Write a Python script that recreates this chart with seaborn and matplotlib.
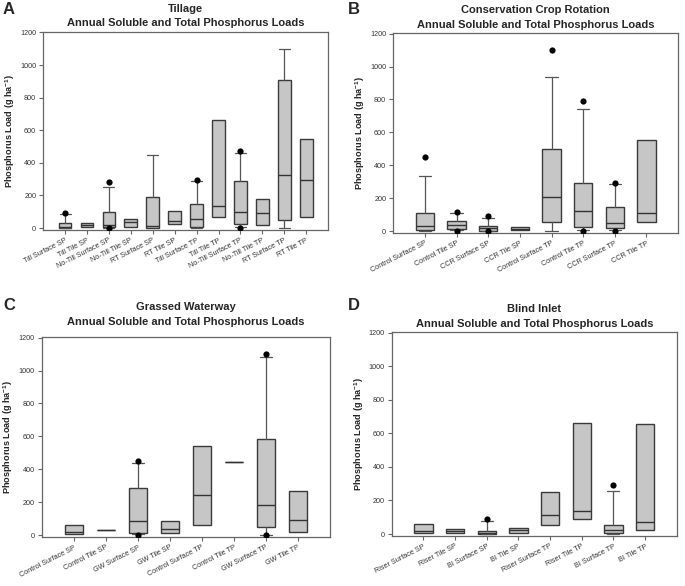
import numpy as np
import pandas as pd
import seaborn as sns
import matplotlib.pyplot as plt

# Panel A - Tillage
a_labels = ["Till Surface SP", "Till Tile SP", "No-Till Surface SP", "No-Till Tile SP",
            "RT Surface SP", "RT Tile SP", "Till Surface TP", "Till Tile TP",
            "No-Till Surface TP", "No-Till Tile TP", "RT Surface TP", "RT Tile TP"]
a_q1 = [2, 4, 4, 8, 1, 22, 6, 67, 22, 16, 49, 67]
a_med = [8, 16, 18, 35, 12, 41, 53, 133, 100, 90, 325, 296]
a_q3 = [33, 29, 96, 53, 188, 102, 150, 660, 290, 180, 910, 545]
a_wlo = [0, None, 2, None, None, None, 2, None, 8, None, 0, None]
a_whi = [84, None, 253, None, 450, None, 287, None, 463, None, 1100, None]
a_out = [[95], [], [282, 0], [], [], [], [293], [], [473, 2], [], [], []]

# Panel B - Conservation Crop Rotation
b_labels = ["Control Surface SP", "Control Tile SP", "CCR Surface SP", "CCR Tile SP",
            "Control Surface TP", "Control Tile TP", "CCR Surface TP", "CCR Tile TP"]
b_q1 = [4, 12, 3, 4, 54, 22, 17, 52]
b_med = [30, 35, 16, 14, 207, 121, 50, 111]
b_q3 = [107, 63, 33, 26, 498, 295, 148, 554]
b_wlo = [0, 4, 0, None, 0, 8, 8, None]
b_whi = [335, 112, 78, None, 936, 741, 286, None]
b_out = [[452], [115, 0], [91, 0], [], [1103], [793, 0], [292, 2], []]

# Panel C - Grassed Waterway
c_labels = ["Control Surface SP", "Control Tile SP", "GW Surface SP", "GW Tile SP",
            "Control Surface TP", "Control Tile TP", "GW Surface TP", "GW Tile TP"]
c_q1 = [4, 30, 15, 10, 62, 446, 46, 16]
c_med = [18, 30, 83, 34, 246, 446, 183, 91]
c_q3 = [58, 30, 288, 84, 544, 446, 583, 270]
c_wlo = [None, None, 5, None, None, None, 0, None]
c_whi = [None, None, 440, None, None, None, 1080, None]
c_out = [[], [], [452, 3], [], [], [], [1103, 3], []]

# Panel D - Blind Inlet
d_labels = ["Riser Surface SP", "Riser Tile SP", "BI Surface SP", "BI Tile SP",
            "Riser Surface TP", "Riser Tile TP", "BI Surface TP", "BI Tile TP"]
d_q1 = [8, 4, 1, 5, 56, 89, 4, 26]
d_med = [20, 15, 6, 24, 113, 137, 22, 71]
d_q3 = [58, 27, 15, 33, 248, 660, 55, 655]
d_wlo = [None, None, 0, None, None, None, 0, None]
d_whi = [None, None, 78, None, None, None, 255, None]
d_out = [[], [], [92], [], [], [], [292], []]

sns.set_style("ticks")
plt.rcParams['font.family'] = ['Liberation Sans', 'DejaVu Sans']
plt.rcParams['mathtext.fontset'] = 'custom'
plt.rcParams['mathtext.rm'] = 'Liberation Sans:bold'
plt.rcParams['mathtext.bf'] = 'Liberation Sans:bold'
plt.rcParams['mathtext.default'] = 'bf'

fig = plt.figure(figsize=(6.85, 5.86), dpi=100)


def draw_panel(rect, labels, q1, med, q3, wlo, whi, outs, title, letter, letter_xy, capw, tpad):
    ax = fig.add_axes(rect)
    stats = []
    for i, lab in enumerate(labels):
        lo = q1[i] if wlo[i] is None else wlo[i]
        hi = q3[i] if whi[i] is None else whi[i]
        stats.append(dict(label=lab, q1=q1[i], med=med[i], q3=q3[i],
                          whislo=lo, whishi=hi, fliers=[]))
    pos = np.arange(len(labels))
    art = ax.bxp(stats, positions=pos, widths=0.58, patch_artist=True,
                 showfliers=False, capwidths=capw,
                 boxprops=dict(facecolor="#c6c6c6", edgecolor="#3a3a3a", linewidth=1.0),
                 medianprops=dict(color="#333333", linewidth=1.0),
                 whiskerprops=dict(color="#555555", linewidth=0.9),
                 capprops=dict(color="#555555", linewidth=0.9))
    # no whisker drawn when the group has too few years
    for i in range(len(labels)):
        if wlo[i] is None:
            art['caps'][2 * i].set_visible(False)
        if whi[i] is None:
            art['caps'][2 * i + 1].set_visible(False)

    # outliers
    fx, fy = [], []
    for i, vals in enumerate(outs):
        for v in vals:
            fx.append(i)
            fy.append(v)
    df = pd.DataFrame({"pos": fx, "load": fy})
    sns.scatterplot(data=df, x="pos", y="load", ax=ax, color="black", s=20,
                    linewidth=0, zorder=5, legend=False)

    ax.set_xlim(-1, len(labels))
    ax.set_ylim(-12, 1203)
    ax.set_yticks(range(0, 1201, 200))
    ax.set_xticks(pos)
    ax.set_xticklabels(labels, rotation=27, ha="right", rotation_mode="anchor",
                       fontsize=5.2, color="#333333")
    ax.tick_params(axis="y", labelsize=5.2, labelcolor="#333333")
    ax.tick_params(direction="out", length=3, width=0.8, color="#666666", pad=2)
    for s in ax.spines.values():
        s.set_visible(True)
        s.set_color("#666666")
        s.set_linewidth(0.9)
    ax.set_xlabel("")
    ax.set_ylabel("Phosphorus Load (g ha$^{-1}$)", fontsize=6.6, fontweight="bold")
    ax.yaxis.set_label_coords(-0.092, 0.5)
    ax.set_title(title, fontsize=8, fontweight="bold", pad=tpad, linespacing=1.55)
    fig.text(letter_xy[0] / 685, 1 - letter_xy[1] / 586, letter, fontsize=12,
             fontweight="bold", va="center", ha="left")
    return ax


draw_panel([0.063, 0.6075, 0.416, 0.338], a_labels, a_q1, a_med, a_q3, a_wlo, a_whi, a_out,
           "Tillage\nAnnual Soluble and Total Phosphorus Loads", "A", (3, 10), 0.5, 4)
draw_panel([0.574, 0.6024, 0.416, 0.341], b_labels, b_q1, b_med, b_q3, b_wlo, b_whi, b_out,
           "Conservation Crop Rotation\nAnnual Soluble and Total Phosphorus Loads", "B", (348, 10), 0.38, 4)
draw_panel([0.061, 0.0836, 0.4205, 0.341], c_labels, c_q1, c_med, c_q3, c_wlo, c_whi, c_out,
           "Grassed Waterway\nAnnual Soluble and Total Phosphorus Loads", "C", (3, 305), 0.38, 9)
draw_panel([0.572, 0.0853, 0.416, 0.348], d_labels, d_q1, d_med, d_q3, d_wlo, d_whi, d_out,
           "Blind Inlet\nAnnual Soluble and Total Phosphorus Loads", "D", (348, 305), 0.38, 4)

fig.savefig("out.png", dpi=100)
